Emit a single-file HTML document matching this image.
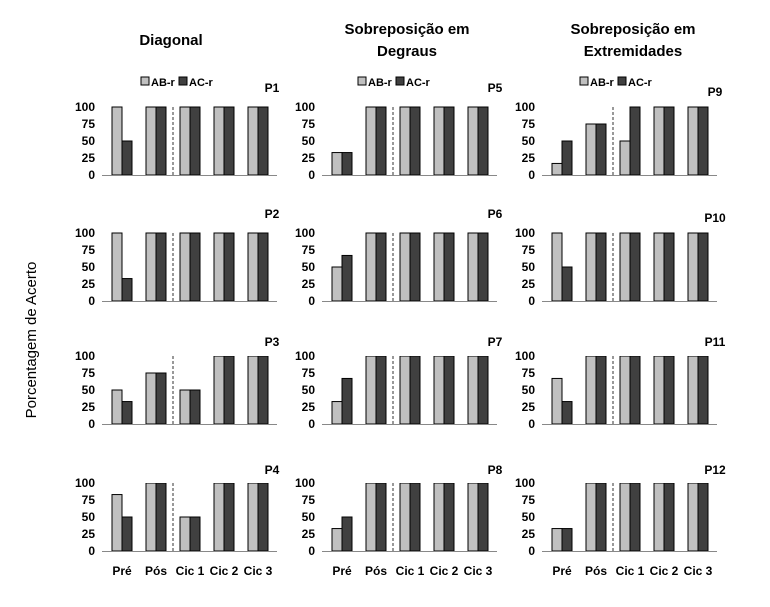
<!DOCTYPE html>
<html><head><meta charset="utf-8"><style>
body{margin:0;background:#fff;}
svg text{font-family:"Liberation Sans",sans-serif;font-weight:bold;fill:#000;}
</style></head><body>
<svg id="chart" width="770" height="602" xmlns="http://www.w3.org/2000/svg">
<text x="0" y="0" transform="translate(36,340) rotate(-90)" text-anchor="middle" font-size="15" style="font-weight:normal">Porcentagem de Acerto</text>
<text x="171" y="45" text-anchor="middle" font-size="15">Diagonal</text>
<text x="407" y="34" text-anchor="middle" font-size="15">Sobreposição em</text>
<text x="407" y="56" text-anchor="middle" font-size="15">Degraus</text>
<text x="633" y="34" text-anchor="middle" font-size="15">Sobreposição em</text>
<text x="633" y="56" text-anchor="middle" font-size="15">Extremidades</text>
</svg>
<script>
const categories = ["Pré","Pós","Cic 1","Cic 2","Cic 3"];
const participants = ["P1","P2","P3","P4","P5","P6","P7","P8","P9","P10","P11","P12"];
const abValues = [
 [100,100,100,100,100],[100,100,100,100,100],[50,75,50,100,100],[83,100,50,100,100],
 [33,100,100,100,100],[50,100,100,100,100],[33,100,100,100,100],[33,100,100,100,100],
 [17,75,50,100,100],[100,100,100,100,100],[67,100,100,100,100],[33,100,100,100,100]];
const acValues = [
 [50,100,100,100,100],[33,100,100,100,100],[33,75,50,100,100],[50,100,50,100,100],
 [33,100,100,100,100],[67,100,100,100,100],[67,100,100,100,100],[50,100,100,100,100],
 [50,75,100,100,100],[50,100,100,100,100],[33,100,100,100,100],[33,100,100,100,100]];
const yTicks = [0,25,50,75,100];
const legendLabels = ["AB-r","AC-r"];

const NS="http://www.w3.org/2000/svg";
const svg=document.getElementById('chart');
function mk(tag,attrs,parent){const e=document.createElementNS(NS,tag);for(const k in attrs)e.setAttribute(k,attrs[k]);(parent||svg).appendChild(e);return e;}
const colC0=[122,342,562], spacing=34;
const rowBase=[175,301,424,551], H=68;
const pLabelY=[[92,218,346,474],[92,218,346,474],[96,222,346,474]];
const pLabelX=[272,495,715];
for(let col=0;col<3;col++){
  const lx=[141,358,580][col];
  const lg=mk('g',{},svg);
  
  
  legendLabels.forEach((l,i)=>{
    const x=lx+i*38;
    const r=mk('rect',{x:x,y:77,width:8,height:8,fill:i?'#404040':'#c0c0c0',stroke:'#000','stroke-width':1},lg);
    
    
    const t=mk('text',{x:x+10,y:86,'font-size':11},lg);
    
    
    t.textContent=l;
  });
  for(let row=0;row<4;row++){
    const idx=col*4+row;
    const g=mk('g',{},svg);
    
    
    const base=rowBase[row], c0=colC0[col];
    const yS=v=>base-v/100*H;
    const xS=i=>c0+i*spacing;
    const ax0=c0-20, ax1=c0+4*spacing+19;
    yTicks.forEach(t=>{
      const tx=mk('text',{x:ax0-7,y:yS(t)+4,'text-anchor':'end','font-size':12},g);
      
      
      tx.textContent=t;
    });
    const clipId='c'+idx;
    if(row>=2){
      const cp=mk('clipPath',{id:clipId},g);
      mk('rect',{x:ax0,y:yS(100),width:ax1-ax0,height:H+2},cp);
    }
    const bg=mk('g',row>=2?{'clip-path':'url(#'+clipId+')'}:{},g);
    categories.forEach((c,i)=>{
      const a=abValues[idx][i], b=acValues[idx][i];
      const r1=mk('rect',{x:xS(i)-10,y:yS(a),width:10,height:base-yS(a),fill:'#c0c0c0',stroke:'#000','stroke-width':1},bg);
      
      
      const r2=mk('rect',{x:xS(i),y:yS(b),width:10,height:base-yS(b),fill:'#404040',stroke:'#000','stroke-width':1},bg);
      
      
    });
    const ax=mk('line',{x1:ax0,x2:ax1,y1:base+0.5,y2:base+0.5,stroke:'#888','stroke-width':1},g);
    
    
    const dx=(xS(1)+xS(2))/2;
    const dl=mk('line',{x1:dx,x2:dx,y1:yS(100),y2:base,stroke:'#333','stroke-width':1,'stroke-dasharray':'3,2'},g);
    
    
    const pl=mk('text',{x:pLabelX[col],y:pLabelY[col][row],'text-anchor':'middle','font-size':12},g);
    
    
    pl.textContent=participants[idx];
    if(row===3){
      categories.forEach((c,i)=>{
        const t=mk('text',{x:xS(i),y:575,'text-anchor':'middle','font-size':12},g);
        
        
        t.textContent=c;
      });
    }
  }
}
</script>
</body></html>
